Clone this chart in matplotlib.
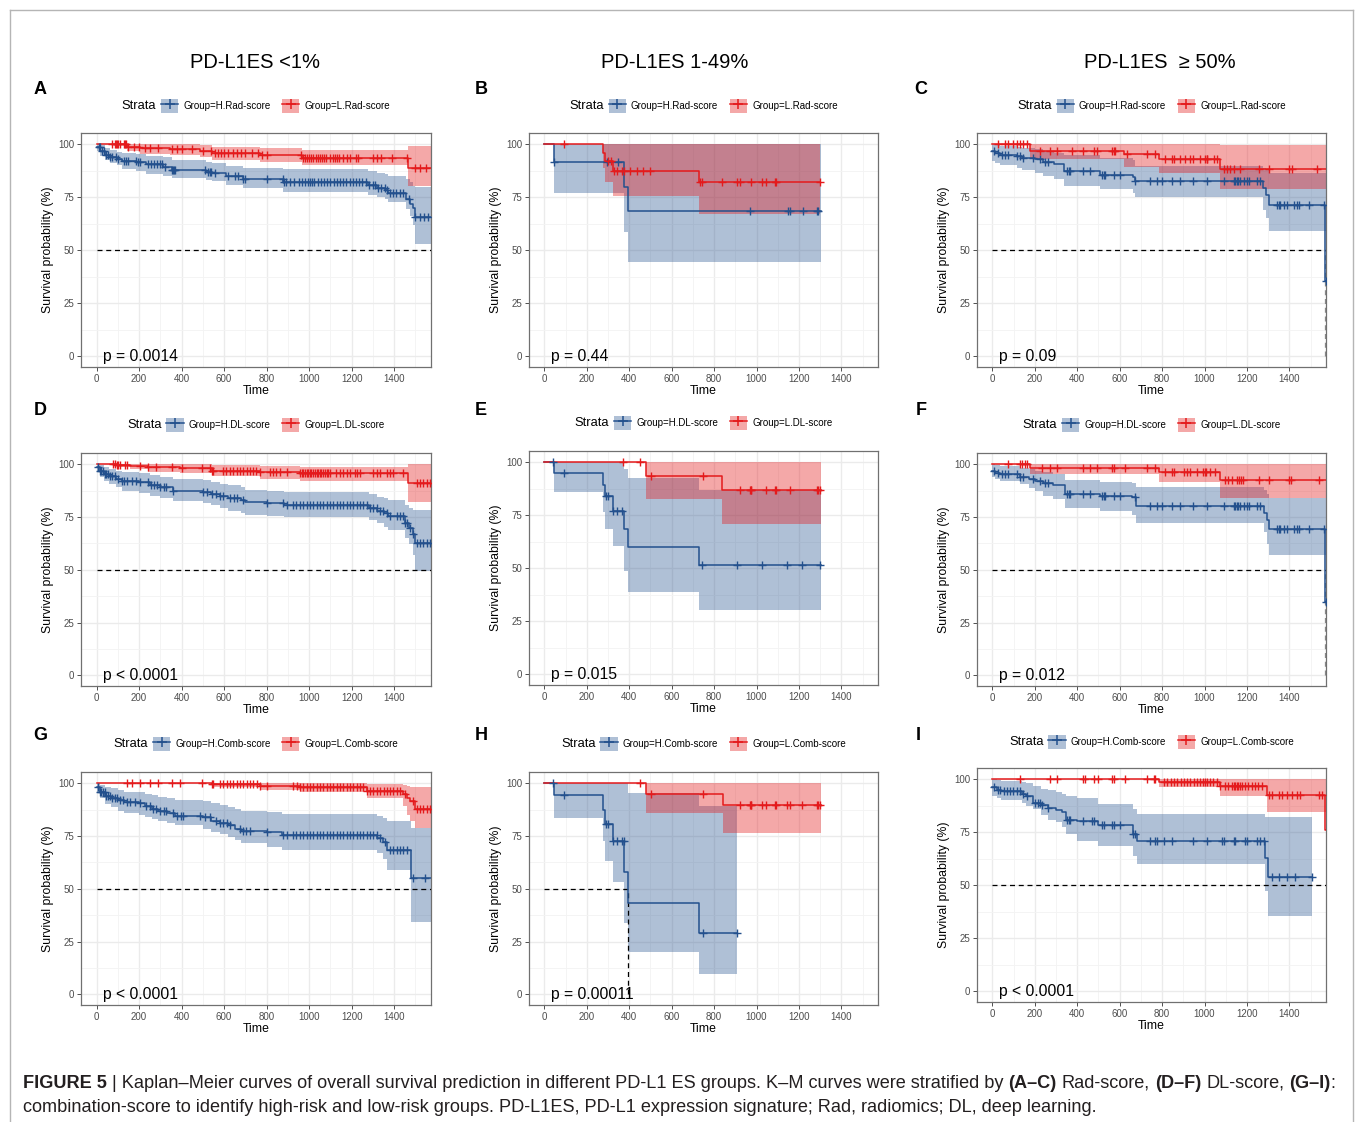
import numpy as np
import matplotlib
matplotlib.use('Agg')
import matplotlib.pyplot as plt
from matplotlib.patches import Patch
from matplotlib.lines import Line2D
from matplotlib.legend_handler import HandlerTuple
from matplotlib import font_manager as fm

plt.rcParams['font.family'] = ['Liberation Sans', 'DejaVu Sans']

# ------------------------------------------------------------------ data
col_titles = ['PD-L1ES <1%', 'PD-L1ES 1-49%', 'PD-L1ES  \u2265 50%']
panel_letters = ['A', 'B', 'C', 'D', 'E', 'F', 'G', 'H', 'I']
score_names = ['Rad-score', 'DL-score', 'Comb-score']
p_values = ['p = 0.0014', 'p = 0.44', 'p = 0.09',
            'p < 0.0001', 'p = 0.015', 'p = 0.012',
            'p < 0.0001', 'p = 0.00011', 'p < 0.0001']
x_ticks = [0, 200, 400, 600, 800, 1000, 1200, 1400]
y_ticks = [0, 25, 50, 75, 100]
# median line: draw horizontal 50% line?  vertical position (None = none)
median_h = [True, False, True, True, False, True, True, True, True]
median_v = [None, None, 1570, None, None, 1570, None, 392, None]

# Panel A
A_H_t = [0, 16, 39, 63, 94, 118, 188, 235, 313, 353, 517, 541, 611, 690, 878, 1278, 1317, 1356, 1372, 1455, 1474, 1489, 1497, 1572]
A_H_s = [98.6, 97, 95, 94, 93, 92, 91.5, 90.5, 89.5, 88, 87, 86.5, 85, 83.5, 82, 80.8, 79.5, 78.5, 77, 74, 72, 70, 65.5, 65.5]
A_H_lo = [97, 94.5, 92.5, 91, 90, 88.5, 87.5, 86, 85, 84, 83, 82.5, 81, 79.5, 77.5, 76, 75, 74, 73, 69.5, 66, 62, 53, 53]
A_H_hi = [100, 99.5, 98, 97.3, 96.5, 95.8, 95.3, 94.5, 94, 92.5, 91.5, 91.2, 89.8, 89, 88.2, 87.5, 86.5, 86, 85, 83.5, 82, 80.5, 80, 80]
A_H_c = [10, 15, 25, 35, 45, 55, 65, 75, 90, 100, 130, 140, 150, 185, 195, 205, 240, 255, 270, 285, 300, 310, 320, 355, 360, 365, 370, 510, 525, 535, 540, 555, 620, 650, 665, 690, 700, 800, 875, 880, 890, 910, 930, 950, 965, 980, 995, 1005, 1015, 1025, 1040, 1055, 1070, 1085, 1100, 1115, 1130, 1145, 1160, 1175, 1190, 1205, 1220, 1235, 1250, 1265, 1280, 1300, 1310, 1325, 1340, 1355, 1365, 1380, 1395, 1410, 1425, 1440, 1470, 1500, 1520, 1540, 1560]
A_L_t = [0, 141, 204, 345, 486, 541, 768, 964, 1463, 1572]
A_L_s = [100, 98.9, 98.1, 97.6, 96.9, 95.8, 94.7, 93.6, 88.7, 88.7]
A_L_lo = [100, 97, 95.5, 95, 94, 92.7, 91.4, 90, 80.3, 80.3]
A_L_hi = [100, 100, 100, 100, 99.8, 98.8, 98.2, 97.5, 99.2, 99.2]
A_L_c = [75, 85, 90, 95, 100, 110, 130, 135, 140, 150, 175, 200, 230, 250, 290, 355, 380, 400, 450, 500, 540, 555, 570, 585, 600, 620, 640, 660, 680, 700, 730, 760, 780, 800, 960, 970, 980, 990, 1000, 1010, 1020, 1030, 1040, 1050, 1060, 1070, 1080, 1100, 1110, 1120, 1130, 1140, 1160, 1180, 1190, 1220, 1230, 1300, 1320, 1340, 1390, 1460, 1500, 1520, 1550]

# Panel B
B_H_t = [0, 45, 375, 392, 1306]
B_H_s = [100, 91.7, 80, 68.7, 68.7]
B_H_lo = [100, 77.2, 58.7, 44.4, 44.4]
B_H_hi = [100, 100, 100, 100, 100]
B_H_c = [45, 293, 345, 969, 1149, 1160, 1217, 1283, 1290]
B_L_t = [0, 278, 286, 322, 729, 1300]
B_L_s = [100, 96, 92, 87.5, 82, 82]
B_L_lo = [100, 88.7, 82, 75.7, 67.3, 67.3]
B_L_hi = [100, 100, 100, 100, 100, 100]
B_L_c = [90, 301, 315, 330, 340, 366, 373, 403, 435, 466, 498, 733, 741, 835, 906, 921, 976, 1024, 1047, 1086, 1094, 1298]

# Panel C
C_H_t = [0, 13, 36, 115, 140, 200, 240, 290, 335, 505, 665, 672, 1278, 1290, 1305, 1568, 1573]
C_H_s = [97, 96, 95, 94.5, 93.5, 92.9, 91.8, 90.5, 87.5, 85.7, 84.5, 82.5, 79.5, 76, 71.5, 35.7, 35.7]
C_H_lo = [92, 91, 90, 89, 88, 86.5, 85, 83.5, 80.5, 79, 77, 75, 69, 65, 59, 59, 59]
C_H_hi = [100, 99.8, 99.3, 98.8, 98.3, 97.8, 97, 96, 95, 93.5, 92.5, 89.8, 89, 88, 86.3, 86.3, 86.3]
C_H_c = [8, 24, 44, 60, 71, 115, 130, 146, 193, 225, 249, 264, 351, 359, 367, 429, 461, 516, 524, 532, 571, 602, 673, 744, 776, 799, 846, 885, 948, 1011, 1090, 1137, 1145, 1153, 1160, 1168, 1184, 1200, 1208, 1247, 1263, 1342, 1350, 1357, 1373, 1389, 1420, 1436, 1444, 1491, 1562, 1571]
C_L_t = [0, 175, 621, 787, 1074, 1573]
C_L_s = [100, 97, 95.5, 93, 88.5, 88.5]
C_L_lo = [100, 93.2, 89.5, 86.3, 78.8, 78.8]
C_L_hi = [100, 100, 100, 100, 99.5, 99.5]
C_L_c = [28, 60, 75, 99, 115, 130, 146, 162, 225, 272, 304, 374, 429, 477, 492, 563, 571, 576, 634, 728, 767, 815, 846, 854, 885, 909, 932, 948, 980, 1003, 1011, 1014, 1043, 1058, 1090, 1105, 1121, 1137, 1168, 1255, 1302, 1397, 1413, 1531]

# Panel D
D_H_t = [0, 15, 35, 60, 90, 120, 200, 250, 300, 360, 500, 540, 580, 620, 680, 700, 800, 880, 1280, 1320, 1350, 1370, 1450, 1470, 1490, 1500, 1572]
D_H_s = [98.5, 97, 95.5, 94.5, 93.2, 92, 91.5, 90, 89, 87.5, 87, 86, 85, 84, 83, 82, 81.5, 80.5, 79.5, 78, 77, 75.5, 72, 70, 67, 62.5, 62.5]
D_H_lo = [96.5, 94, 92, 90.5, 89, 87.5, 86.5, 85, 84, 82.5, 81.5, 80.5, 79.5, 78, 77, 76, 75.5, 75, 73.5, 72, 70.5, 69, 65, 62, 57, 49.5, 49.5]
D_H_hi = [100, 99.5, 98.5, 97.8, 97, 96.2, 95.8, 95, 94, 93, 92.5, 91.5, 90.5, 90, 89, 88, 87.5, 87, 86, 84.5, 84, 83, 80.5, 79.5, 78.5, 78.5, 78.5]
D_H_c = [8, 15, 22, 30, 38, 45, 55, 65, 75, 85, 100, 120, 130, 141, 165, 185, 204, 243, 255, 270, 285, 300, 315, 329, 361, 502, 520, 541, 564, 580, 596, 627, 645, 660, 690, 800, 878, 894, 925, 940, 956, 972, 988, 1003, 1019, 1035, 1050, 1066, 1082, 1097, 1113, 1129, 1144, 1160, 1176, 1192, 1207, 1223, 1239, 1254, 1270, 1286, 1301, 1317, 1333, 1348, 1364, 1380, 1411, 1427, 1442, 1450, 1458, 1474, 1490, 1505, 1520, 1536, 1552, 1568]
D_L_t = [0, 94, 157, 243, 392, 541, 768, 956, 1463, 1572]
D_L_s = [100, 99.6, 99.2, 98.7, 98.2, 97, 96.1, 95.6, 90.9, 90.9]
D_L_lo = [100, 98.5, 97.5, 96.5, 95.7, 94.5, 92.9, 92.1, 81.9, 81.9]
D_L_hi = [100, 100, 100, 100, 100, 99.6, 99, 98.5, 100, 100]
D_L_c = [78, 86, 94, 102, 110, 133, 141, 204, 243, 282, 353, 400, 494, 533, 541, 549, 596, 611, 627, 643, 659, 675, 690, 706, 721, 737, 752, 768, 815, 831, 846, 862, 894, 956, 964, 972, 980, 988, 996, 1003, 1011, 1019, 1027, 1035, 1043, 1050, 1058, 1066, 1074, 1082, 1090, 1097, 1128, 1144, 1160, 1176, 1191, 1215, 1227, 1239, 1301, 1317, 1333, 1364, 1380, 1395, 1442, 1505, 1520, 1536, 1552, 1567]

# Panel E
E_H_t = [0, 45, 278, 286, 322, 375, 392, 729, 1306]
E_H_s = [100, 95, 89.5, 84, 77.2, 68.7, 60, 51.5, 51.5]
E_H_lo = [100, 85.8, 76.5, 68.5, 60.6, 48.7, 39, 30.5, 30.5]
E_H_hi = [100, 100, 100, 100, 100, 97, 92.6, 86.9, 86.9]
E_H_c = [40, 90, 290, 301, 325, 344, 364, 741, 906, 1024, 1144, 1215, 1298]
E_L_t = [0, 477, 838, 1306]
E_L_s = [100, 93.6, 86.7, 86.7]
E_L_lo = [100, 82.6, 70.8, 70.8]
E_L_hi = [100, 100, 100, 100]
E_L_c = [369, 451, 501, 746, 921, 970, 973, 976, 1044, 1088, 1091, 1157, 1283, 1290, 1298]

# Panel F
F_H_t = [0, 13, 36, 130, 170, 200, 240, 285, 340, 505, 660, 675, 1280, 1295, 1305, 1568, 1573]
F_H_s = [97, 96, 95.3, 94, 93, 92.2, 91, 90, 86, 85, 84.3, 80.3, 77, 73.5, 69.5, 35, 35]
F_H_lo = [94, 92.9, 92, 90.6, 88.5, 87.4, 85, 83.5, 79.1, 78, 76, 72.1, 68, 62, 57, 57, 57]
F_H_hi = [100, 99.5, 99, 98, 97.5, 97, 96.5, 95.5, 92.5, 91.5, 91, 89.3, 88, 86, 84, 84, 84]
F_H_c = [8, 24, 44, 60, 71, 115, 130, 146, 193, 225, 249, 264, 351, 359, 367, 429, 461, 516, 524, 532, 571, 602, 673, 744, 776, 799, 846, 885, 948, 1011, 1090, 1137, 1145, 1153, 1160, 1168, 1184, 1200, 1208, 1247, 1263, 1342, 1350, 1357, 1373, 1389, 1420, 1436, 1444, 1491, 1562, 1571]
F_L_t = [0, 175, 787, 1074, 1573]
F_L_s = [100, 98.3, 96.5, 92.3, 92.3]
F_L_lo = [100, 95.5, 91.4, 84, 84]
F_L_hi = [100, 100, 100, 100, 100]
F_L_c = [75, 130, 138, 154, 162, 232, 272, 304, 429, 461, 492, 563, 571, 626, 728, 767, 815, 846, 854, 901, 917, 932, 964, 995, 1003, 1008, 1027, 1050, 1098, 1113, 1129, 1153, 1165, 1171, 1181, 1255, 1302, 1397, 1409, 1538]

# Panel G
G_H_t = [0, 15, 40, 70, 100, 130, 200, 230, 260, 290, 330, 370, 500, 540, 580, 620, 650, 680, 800, 870, 1320, 1345, 1365, 1478, 1572]
G_H_s = [98, 96, 94, 93, 92, 91, 90.5, 89, 88, 87, 86, 84.5, 84, 82, 81, 80, 78.5, 77.5, 77, 75.5, 74, 72, 68.6, 55, 55]
G_H_lo = [96, 93, 90, 88.5, 87, 86, 85, 84, 83, 82, 81, 80, 78.5, 77, 76, 74.5, 73, 71.5, 70, 68.5, 67, 64, 59, 34.5, 34.5]
G_H_hi = [100, 99, 98, 97.5, 96.8, 96, 95.7, 95, 94.3, 93.5, 93, 92, 91.5, 90.5, 89.5, 88.8, 88, 87, 86.5, 85.5, 84.5, 83.5, 82, 79, 79]
G_H_c = [8, 15, 22, 30, 38, 45, 55, 65, 75, 85, 95, 110, 125, 141, 157, 180, 204, 235, 250, 265, 280, 300, 315, 329, 361, 380, 395, 408, 486, 510, 533, 564, 580, 596, 612, 627, 674, 690, 705, 721, 800, 878, 894, 925, 940, 956, 972, 988, 1003, 1019, 1035, 1050, 1066, 1082, 1097, 1113, 1129, 1144, 1160, 1176, 1192, 1207, 1223, 1239, 1254, 1270, 1286, 1301, 1317, 1333, 1356, 1380, 1395, 1411, 1427, 1442, 1458, 1490, 1544]
G_L_t = [0, 541, 768, 956, 1270, 1442, 1458, 1474, 1497, 1572]
G_L_s = [100, 99.4, 98.6, 98, 96.4, 95, 93, 91.5, 88, 88]
G_L_lo = [100, 98, 97, 96, 93, 89, 85, 82, 78.8, 78.8]
G_L_hi = [100, 100, 100, 100, 99.5, 99, 98.5, 98, 98, 98]
G_L_c = [141, 165, 204, 251, 290, 353, 392, 494, 541, 549, 580, 596, 612, 627, 643, 659, 675, 690, 706, 722, 737, 753, 768, 800, 925, 941, 956, 972, 988, 1003, 1019, 1035, 1050, 1066, 1082, 1097, 1113, 1129, 1144, 1160, 1176, 1192, 1207, 1223, 1239, 1254, 1270, 1286, 1300, 1317, 1333, 1350, 1365, 1380, 1395, 1411, 1427, 1450, 1490, 1505, 1520, 1536, 1552, 1567]

# Panel H
H_H_t = [0, 45, 278, 286, 322, 375, 392, 729, 906]
H_H_s = [100, 94.2, 87.4, 80.8, 72.5, 58, 43.5, 29, 29]
H_H_lo = [100, 83.5, 72.5, 63, 53, 33.6, 20, 9.6, 9.6]
H_H_hi = [100, 100, 100, 100, 100, 100, 95.3, 89, 89]
H_H_c = [40, 90, 290, 301, 325, 344, 364, 373, 746, 906]
H_L_t = [0, 477, 840, 1306]
H_L_s = [100, 95, 89.5, 89.5]
H_L_lo = [100, 85.8, 76.5, 76.5]
H_L_hi = [100, 100, 100, 100]
H_L_c = [451, 501, 746, 921, 970, 973, 976, 1024, 1044, 1088, 1091, 1144, 1157, 1215, 1283, 1290, 1298]

# Panel I
I_H_t = [0, 20, 40, 140, 160, 190, 230, 260, 300, 330, 345, 400, 500, 665, 680, 1285, 1300, 1507]
I_H_s = [96.5, 95, 94.3, 93, 92, 89, 88, 86.5, 85.5, 84.5, 81, 80.3, 78.5, 74, 70.7, 63, 54, 54]
I_H_lo = [92, 91, 90, 89, 87.5, 86, 83, 81, 80, 77.5, 74, 71, 68.7, 64, 60, 47.5, 35.5, 35.5]
I_H_hi = [100, 99.5, 99, 98.5, 98, 97, 95.5, 95, 94, 93.2, 92, 91, 88.5, 86, 83.8, 82, 82, 82]
I_H_c = [8, 24, 36, 52, 68, 83, 99, 115, 130, 146, 162, 201, 217, 225, 233, 264, 351, 359, 367, 429, 469, 477, 516, 524, 563, 571, 602, 665, 673, 744, 767, 775, 807, 846, 948, 1011, 1082, 1090, 1137, 1145, 1192, 1200, 1247, 1263, 1279, 1318, 1350, 1389, 1428, 1507]
I_L_t = [0, 787, 1074, 1295, 1570, 1573]
I_L_s = [100, 98.6, 96.6, 92.8, 76, 76]
I_L_lo = [100, 96.4, 92, 84.6, 84.6, 84.6]
I_L_hi = [100, 100, 100, 100, 100, 100]
I_L_c = [130, 272, 304, 429, 437, 477, 500, 563, 571, 626, 728, 760, 767, 810, 825, 840, 856, 871, 887, 902, 918, 933, 949, 964, 980, 995, 1003, 1011, 1027, 1042, 1058, 1074, 1098, 1113, 1129, 1137, 1145, 1153, 1160, 1168, 1176, 1192, 1207, 1223, 1239, 1254, 1270, 1302, 1318, 1350, 1365, 1389, 1413, 1436, 1452, 1538, 1554]

caption_line1 = [("FIGURE 5", True, False),
                 ("| Kaplan\u2013Meier curves of overall survival prediction in different PD-L1 ES groups. K\u2013M curves were stratified by", False, True),
                 ("(A\u2013C)", True, True), ("Rad-score,", False, True),
                 ("(D\u2013F)", True, True), ("DL-score,", False, True),
                 ("(G\u2013I)", True, True), (":", False, False)]
caption_line2 = "combination-score to identify high-risk and low-risk groups. PD-L1ES, PD-L1 expression signature; Rad, radiomics; DL, deep learning."

panels = [
    ((A_H_t, A_H_s, A_H_lo, A_H_hi, A_H_c), (A_L_t, A_L_s, A_L_lo, A_L_hi, A_L_c)),
    ((B_H_t, B_H_s, B_H_lo, B_H_hi, B_H_c), (B_L_t, B_L_s, B_L_lo, B_L_hi, B_L_c)),
    ((C_H_t, C_H_s, C_H_lo, C_H_hi, C_H_c), (C_L_t, C_L_s, C_L_lo, C_L_hi, C_L_c)),
    ((D_H_t, D_H_s, D_H_lo, D_H_hi, D_H_c), (D_L_t, D_L_s, D_L_lo, D_L_hi, D_L_c)),
    ((E_H_t, E_H_s, E_H_lo, E_H_hi, E_H_c), (E_L_t, E_L_s, E_L_lo, E_L_hi, E_L_c)),
    ((F_H_t, F_H_s, F_H_lo, F_H_hi, F_H_c), (F_L_t, F_L_s, F_L_lo, F_L_hi, F_L_c)),
    ((G_H_t, G_H_s, G_H_lo, G_H_hi, G_H_c), (G_L_t, G_L_s, G_L_lo, G_L_hi, G_L_c)),
    ((H_H_t, H_H_s, H_H_lo, H_H_hi, H_H_c), (H_L_t, H_L_s, H_L_lo, H_L_hi, H_L_c)),
    ((I_H_t, I_H_s, I_H_lo, I_H_hi, I_H_c), (I_L_t, I_L_s, I_L_lo, I_L_hi, I_L_c)),
]

# ------------------------------------------------------------------ style / layout
W, H = 1355, 1122
BLUE, RED = '#23508D', '#E41A1C'
BLUE_FILL, RED_FILL = '#2E5A94', '#E41A1C'
FILL_ALPHA = 0.38
XLIM = (-73, 1573)
YLIM = (-5, 105.3)

axes_px = [(81, 133, 431, 367), (529, 133, 878, 367), (977, 133, 1326, 367),
           (81, 453, 431, 686), (529, 451, 878, 685), (977, 453, 1326, 686),
           (81, 772, 431, 1005), (529, 772, 878, 1005), (977, 768, 1326, 1002)]
legend_y = [106, 106, 106, 425, 423, 425, 744, 744, 742]
letter_pos = [(40, 89), (481, 89), (921, 89), (40, 410), (481, 410), (921, 410),
              (40, 735), (481, 735), (918, 735)]
title_x = [255, 675, 1160]
title_y = 63

fig = plt.figure(figsize=(W / 100, H / 100), dpi=100)
fig.patch.set_facecolor('white')


def fx(px):
    return px / W


def fy(py):
    return 1 - py / H


def step_value(t, s, x):
    idx = np.searchsorted(np.asarray(t, float), np.asarray(x, float), side='right') - 1
    return np.asarray(s, float)[np.clip(idx, 0, len(s) - 1)]


legs, stratas = [], []
for i, ((hd, ld)) in enumerate(panels):
    l, t, r, b = axes_px[i]
    ax = fig.add_axes([fx(l), fy(b), (r - l) / W, (b - t) / H])
    ax.set_xlim(*XLIM)
    ax.set_ylim(*YLIM)
    ax.set_xticks(x_ticks)
    ax.set_yticks(y_ticks)
    ax.set_xticks([100, 300, 500, 700, 900, 1100, 1300, 1500], minor=True)
    ax.set_yticks([12.5, 37.5, 62.5, 87.5], minor=True)
    ax.tick_params(which='minor', length=0)
    ax.tick_params(which='major', length=3, width=0.6, color='#333333',
                   labelsize=7, labelcolor='#4D4D4D', pad=2)
    ax.grid(which='major', color='#EBEBEB', lw=1.0)
    ax.grid(which='minor', color='#F3F3F3', lw=0.6)
    ax.set_axisbelow(True)
    for sp in ax.spines.values():
        sp.set_color('#707070')
        sp.set_linewidth(0.9)

    # confidence ribbons
    for (tt, ss, lo, hi, cc), fc in ((hd, BLUE_FILL), (ld, RED_FILL)):
        ax.fill_between(tt, lo, hi, step='post', color=fc, alpha=FILL_ALPHA, lw=0)

    # median lines
    if median_h[i]:
        xe = median_v[i] if (median_v[i] is not None and median_v[i] < 1500) else XLIM[1]
        ax.plot([0, xe], [50, 50], color='black', lw=0.9, ls=(0, (4, 3)), zorder=3)
    if median_v[i] is not None:
        vcol = 'black' if median_v[i] < 1500 else '#888888'
        ax.plot([median_v[i], median_v[i]], [0, 50], color=vcol, lw=0.9, ls=(0, (4, 3)), zorder=3)

    # curves and censor marks
    for (tt, ss, lo, hi, cc), col in ((hd, BLUE), (ld, RED)):
        ax.step(tt, ss, where='post', color=col, lw=1.1, zorder=4)
        ax.plot(cc, step_value(tt, ss, cc), ls='none', marker='+', ms=6,
                mew=1.0, color=col, zorder=5)

    ax.text(30, 0, p_values[i], fontsize=11.3, ha='left', va='center', zorder=6)
    ax.set_xlabel('Time', fontsize=8.8, labelpad=1)
    ax.set_ylabel('Survival probability (%)', fontsize=8.8, labelpad=3)

    # legend
    sname = score_names[i // 3]
    handles = []
    for col, fc in ((BLUE, BLUE_FILL), (RED, RED_FILL)):
        p = Patch(facecolor=fc, alpha=FILL_ALPHA, edgecolor='none')
        ln = Line2D([], [], color=col, lw=1.1, marker='+', ms=7, mew=1.1)
        handles.append((p, ln))
    leg = ax.legend(handles, ['Group=H.' + sname, 'Group=L.' + sname], ncol=2,
                    loc='center left', bbox_to_anchor=(0, 0),
                    bbox_transform=fig.transFigure, frameon=False, fontsize=7,
                    handlelength=1.75, handleheight=1.8, handletextpad=0.55,
                    columnspacing=1.2, borderpad=0, borderaxespad=0, numpoints=1,
                    handler_map={tuple: HandlerTuple(ndivide=1)})
    legs.append(leg)
    stratas.append(fig.text(0, 0, 'Strata', fontsize=9.3, ha='left', va='center'))

    lx, ly = letter_pos[i]
    fig.text(fx(lx), fy(ly), panel_letters[i], fontsize=13, fontweight='bold',
             ha='center', va='center')

for j, tt in enumerate(col_titles):
    fig.text(fx(title_x[j]), fy(title_y), tt, fontsize=14.5, ha='center', va='center')

# outer frame
frame_col = '#B5B5B5'
fig.add_artist(Line2D([fx(10), fx(1353)], [fy(10), fy(10)], transform=fig.transFigure, color=frame_col, lw=1))
fig.add_artist(Line2D([fx(10), fx(10)], [fy(10), 0], transform=fig.transFigure, color=frame_col, lw=1))
fig.add_artist(Line2D([fx(1353), fx(1353)], [fy(10), 0], transform=fig.transFigure, color=frame_col, lw=1))

# caption font
names = {f.name for f in fm.fontManager.ttflist}
cap_family = 'Liberation Sans Narrow' if 'Liberation Sans Narrow' in names else 'Liberation Sans'

fig.canvas.draw()
renderer = fig.canvas.get_renderer()

# place legends + "Strata"
for i in range(9):
    l, t, r, b = axes_px[i]
    leg, st = legs[i], stratas[i]
    wl = leg.get_window_extent(renderer).width
    ws = st.get_window_extent(renderer).width
    gap = 5
    total = ws + gap + wl
    x0 = (l + r) / 2 - total / 2
    cy = legend_y[i]
    st.set_position((fx(x0), fy(cy)))
    leg.set_bbox_to_anchor((fx(x0 + ws + gap), fy(cy)), transform=fig.transFigure)


# caption (mixed bold / regular), fitted to the reference line width
def measure(txt, size, bold):
    tobj = fig.text(0, 0, txt, fontsize=size, family=[cap_family, 'DejaVu Sans'],
                    fontweight='bold' if bold else 'normal')
    w = tobj.get_window_extent(renderer).width
    tobj.remove()
    return w


def line_width(size):
    sp = measure('x x', size, False) - measure('xx', size, False)
    tot = 0
    for k, (txt, bold, space_before) in enumerate(caption_line1):
        if space_before:
            tot += sp
        tot += measure(txt, size, bold)
    return tot, sp


base = 13.0
w0, _ = line_width(base)
cap_size = base * (1333 - 23) / w0
_, sp = line_width(cap_size)
xcur = 23
for txt, bold, space_before in caption_line1:
    if space_before:
        xcur += sp
    tobj = fig.text(fx(xcur), fy(1083), txt, fontsize=cap_size,
                    family=[cap_family, 'DejaVu Sans'],
                    fontweight='bold' if bold else 'normal', ha='left', va='center',
                    color='#231F20')
    xcur += tobj.get_window_extent(renderer).width
fig.text(fx(23), fy(1108), caption_line2, fontsize=cap_size,
         family=[cap_family, 'DejaVu Sans'], ha='left', va='center', color='#231F20')

fig.savefig('out.png', dpi=100, facecolor='white')
